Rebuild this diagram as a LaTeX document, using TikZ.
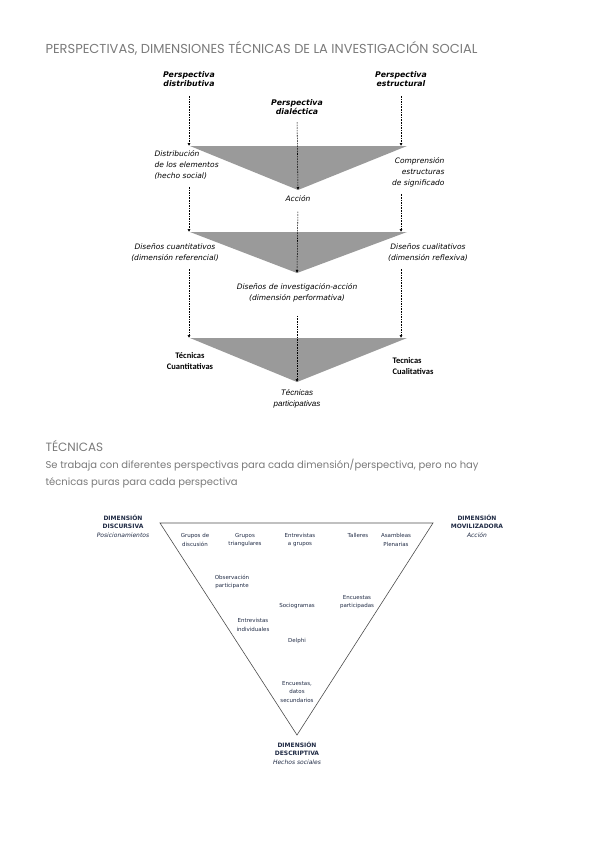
\documentclass[tikz,border=0pt]{standalone}
\usepackage{fontspec}
\setmainfont{DejaVu Sans}
\newfontfamily\poppfont{Poppins}
\newfontfamily\carlfont{Carlito}
\newfontfamily\libfont{Liberation Sans}
\usetikzlibrary{arrows.meta}
\definecolor{titlegray}{HTML}{7A7A7A}
\definecolor{wedgegray}{HTML}{9A9A9A}
\definecolor{navytext}{HTML}{1F2A44}

\begin{document}
\begin{tikzpicture}[x=1pt, y=-1pt, >={Latex[length=3pt,width=3pt]},
	persp/.style={font=\fontsize{7.8}{9}\selectfont\bfseries\itshape, align=center},
	lbl/.style={font=\fontsize{7.5}{11}\selectfont\itshape, align=center},
	tech/.style={font=\carlfont\fontsize{8.5}{11}\selectfont\bfseries, align=center},
	heading/.style={font=\poppfont\fontsize{10}{17}\selectfont, text=titlegray, align=left},
	dasharrow/.style={->, dash pattern=on 1.6pt off 1pt, line width=0.55pt},
	wedge/.style={fill=wedgegray},
	dimbox/.style={font=\fontsize{6}{8.5}\selectfont, align=center, text=navytext},
	tecnica/.style={font=\fontsize{5.5}{8.5}\selectfont, align=center, text=navytext}]
	\useasboundingbox (0,0) rectangle (600,848);
	% titles
	\node[heading, font=\poppfont\fontsize{13}{17}\selectfont, anchor=west] (titulo) at (42,48) {PERSPECTIVAS, DIMENSIONES TÉCNICAS DE LA INVESTIGACIÓN SOCIAL};
	% perspectives and wedges
	\node[persp] (distrib) at (189,79) {Perspectiva\\distributiva};
	\node[persp] (estruct) at (401,79) {Perspectiva\\estructural};
	\node[persp] (dialec) at (297,107) {Perspectiva\\dialéctica};
	\coordinate (w1l) at (190,146); \coordinate (w1r) at (407,146); \coordinate (w1a) at (298,190);
	\coordinate (w2l) at (190,232); \coordinate (w2r) at (407,232); \coordinate (w2a) at (297,273);
	\coordinate (w3l) at (190,338); \coordinate (w3r) at (407,338); \coordinate (w3a) at (297,382);
	\foreach \n in {1,2,3}
		\fill[wedge] (w\n l) -- (w\n r) -- (w\n a) -- cycle;
	\node[lbl, align=left, anchor=west] (distel) at (151,165) {Distribución\\de los elementos\\(hecho social)};
	\node[lbl, align=right, anchor=east] (compr) at (448,172) {Comprensión\\estructuras\\de significado};
	\node[lbl] (accion) at (298,199) {Acción};
	\node[lbl] (dcuant) at (175,253) {Diseños cuantitativos\\(dimensión referencial)};
	\node[lbl] (dcual) at (428,253) {Diseños cualitativos\\(dimensión reflexiva)};
	\node[lbl] (dperf) at (297,293) {Diseños de investigación-acción\\(dimensión performativa)};
	\node[tech] (tcuant) at (190,361) {Técnicas\\Cuantitativas};
	\node[tech, align=left, anchor=west] (tcual) at (389,366) {Tecnicas\\Cualitativas};
	\node[font=\libfont\itshape\fontsize{8}{11}\selectfont, align=center] (tpart) at (297,399) {Técnicas\\participativas};
	% arrows
	\draw[dasharrow, shorten <=6pt] (distrib.south) -- (distrib.south |- w1l);
	\draw[dasharrow, shorten <=4pt] (distel.south -| distrib.south) -- (distrib.south |- w2l);
	\draw[dasharrow, shorten <=4pt] (dcuant.south -| distrib.south) -- (distrib.south |- w3l);
	\draw[dasharrow, shorten <=6pt] (estruct.south) -- (estruct.south |- w1r);
	\draw[dasharrow, shorten <=4pt] (compr.south -| estruct.south) -- (estruct.south |- w2r);
	\draw[dasharrow, shorten <=4pt] (dcual.south -| estruct.south) -- (estruct.south |- w3r);
	\draw[dasharrow, shorten <=4pt] (dialec.south) -- (w1a);
	\draw[dasharrow, shorten <=6pt] (accion.south) -- (w2a);
	\draw[dasharrow, shorten <=10pt] (dperf.south) -- (w3a);
	% techniques
	\node[heading, font=\poppfont\fontsize{12}{17}\selectfont, anchor=west] (tecn) at (42,446) {TÉCNICAS};
	\node[heading, anchor=north west] (desc) at (42,456) {Se trabaja con diferentes perspectivas para cada dimensión/perspectiva, pero no hay\\técnicas puras para cada perspectiva};
	\coordinate (v1) at (160,523); \coordinate (v2) at (433,523); \coordinate (v3) at (297,735);
	\draw[draw=black!70, line width=0.6pt] (v1) -- (v2) -- (v3) -- cycle;
	\node[dimbox] (discur) at (123,526) {\textbf{DIMENSIÓN}\\\textbf{DISCURSIVA}\\\textit{Posicionamientos}};
	\node[dimbox] (moviliz) at (477,526) {\textbf{DIMENSIÓN}\\\textbf{MOVILIZADORA}\\\textit{Acción}};
	\node[dimbox] (descrip) at (297,753) {\textbf{DIMENSIÓN}\\\textbf{DESCRIPTIVA}\\\textit{Hechos sociales}};
	\node[tecnica] (gdisc) at (195,540) {Grupos de\\discusión};
	\node[tecnica] (gtri) at (245,540) {Grupos\\triangulares};
	\node[tecnica] (egrup) at (300,540) {Entrevistas\\a grupos};
	\node[tecnica] (talleres) at (358,535) {Talleres};
	\node[tecnica] (asamb) at (396,540) {Asambleas\\Plenarias};
	\node[tecnica] (observ) at (232,582) {Observación\\participante};
	\node[tecnica] (socio) at (297,606) {Sociogramas};
	\node[tecnica] (encpart) at (357,602) {Encuestas\\participadas};
	\node[tecnica] (eindiv) at (253,625) {Entrevistas\\individuales};
	\node[tecnica] (delphi) at (297,641) {Delphi};
	\node[tecnica] (encsec) at (297,692) {Encuestas,\\datos\\secundarios};
\end{tikzpicture}
\end{document}
